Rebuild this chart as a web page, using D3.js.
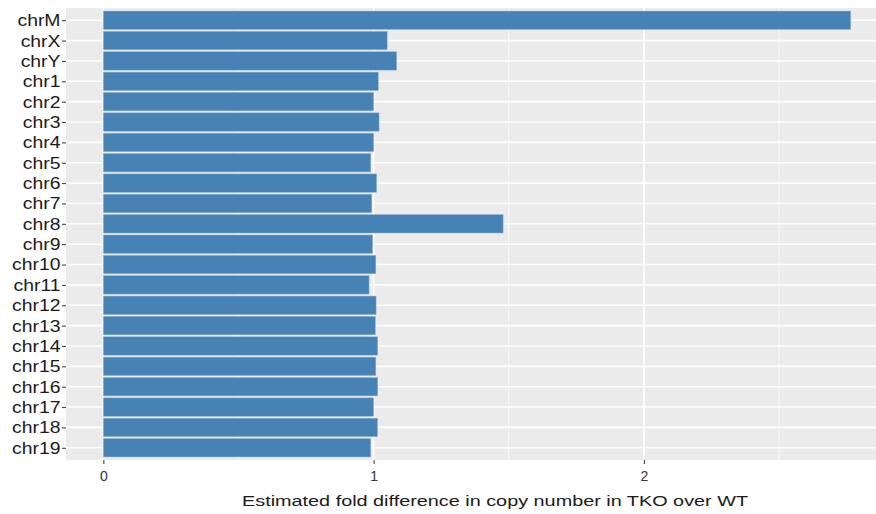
<!DOCTYPE html>
<html>
<head>
<meta charset="utf-8">
<script src="https://cdn.jsdelivr.net/npm/d3@7"></script>
<style>
  body { margin: 0; background: #fff; overflow: hidden; }
  text { font-family: "Liberation Sans", Arial, sans-serif; }
</style>
</head>
<body>
<div id="chart"></div>
<script>
const chromosomes = ["chrM", "chrX", "chrY", "chr1", "chr2", "chr3", "chr4", "chr5", "chr6", "chr7",
    "chr8", "chr9", "chr10", "chr11", "chr12", "chr13", "chr14", "chr15", "chr16", "chr17", "chr18", "chr19"];
const foldValues = [2.765, 1.050, 1.085, 1.017, 1.000, 1.020, 1.000, 0.989, 1.011, 0.993,
    1.479, 0.996, 1.008, 0.983, 1.009, 1.006, 1.015, 1.008, 1.015, 1.000, 1.014, 0.989];
const xTicks = [0, 1, 2];
const xMinor = [0.5, 1.5, 2.5];
const xTitle = "Estimated fold difference in copy number in TKO over WT";

const data = chromosomes.map((c, i) => ({ chr: c, value: foldValues[i] }));

const width = 876, height = 514;
const margin = { top: 8, right: -12, bottom: 54, left: 66 },
    innerWidth = width - margin.left - margin.right,
    innerHeight = height - margin.top - margin.bottom;

const svg = d3.select("#chart").append("svg")
    .attr("width", width)
    .attr("height", height)
    .style("display", "block");

const g = svg.append("g")
    .attr("transform", `translate(${margin.left},${margin.top})`);

// ggplot-like expansion: 5% continuous, 0.6 discrete
const maxVal = d3.max(foldValues);
const pad = maxVal * 0.05;
const x = d3.scaleLinear()
    .domain([-pad, maxVal + pad])
    .range([0, innerWidth]);

const n = chromosomes.length;
const step = innerHeight / (n - 1 + 1.2);
const y = d3.scalePoint()
    .domain(chromosomes)
    .range([0.6 * step, innerHeight - 0.6 * step]);
const barH = step * 0.9;

g.append("rect")
    .attr("width", innerWidth)
    .attr("height", innerHeight)
    .attr("fill", "#EBEBEB");

g.selectAll(".minor")
    .data(xMinor)
    .enter().append("line")
    .attr("x1", d => x(d)).attr("x2", d => x(d))
    .attr("y1", 0).attr("y2", innerHeight)
    .attr("stroke", "#fff").attr("stroke-width", 0.8);

g.selectAll(".majorx")
    .data(xTicks)
    .enter().append("line")
    .attr("x1", d => x(d)).attr("x2", d => x(d))
    .attr("y1", 0).attr("y2", innerHeight)
    .attr("stroke", "#fff").attr("stroke-width", 1.6);

g.selectAll(".majory")
    .data(chromosomes)
    .enter().append("line")
    .attr("x1", 0).attr("x2", innerWidth)
    .attr("y1", d => y(d)).attr("y2", d => y(d))
    .attr("stroke", "#fff").attr("stroke-width", 1.6);

g.selectAll(".bar")
    .data(data)
    .enter().append("rect")
    .attr("class", "bar")
    .attr("x", x(0))
    .attr("y", d => y(d.chr) - barH / 2)
    .attr("width", d => x(d.value) - x(0))
    .attr("height", barH)
    .attr("fill", "steelblue")
    .attr("stroke", "#8aaecd")
    .attr("stroke-width", 0.5);

const yAxis = g.append("g")
    .call(d3.axisLeft(y).tickSize(4));
yAxis.select(".domain").remove();
yAxis.selectAll("line").attr("stroke", "#333");
// labels look a bit wide in the reference, so stretch them horizontally
yAxis.selectAll("text")
    .attr("x", 0)
    .attr("transform", "translate(-5.5,0) scale(1.14,1)")
    .attr("fill", "#1a1a1a")
    .style("font-size", "17px");

const xAxis = g.append("g")
    .attr("transform", `translate(0,${innerHeight})`)
    .call(d3.axisBottom(x).tickValues(xTicks).tickFormat(d3.format("d")).tickSize(4).tickPadding(7));
xAxis.select(".domain").remove();
xAxis.selectAll("line").attr("stroke", "#333");
xAxis.selectAll("text")
    .attr("fill", "#333")
    .style("font-size", "14px");

svg.append("text")
    .attr("x", 495)
    .attr("y", 505.5)
    .style("text-anchor", "middle")
    .style("font-size", "15.5px")
    .attr("textLength", 506)
    .attr("lengthAdjust", "spacingAndGlyphs")
    .attr("fill", "#1a1a1a")
    .text(xTitle);
</script>
</body>
</html>
